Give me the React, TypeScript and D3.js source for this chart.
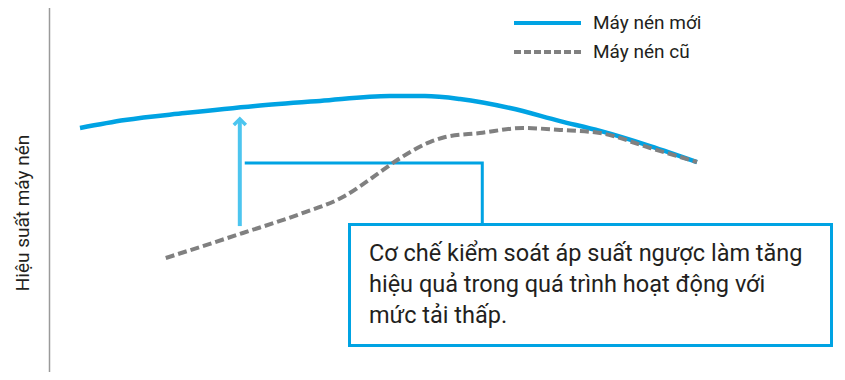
import { useEffect, useRef } from "react";
import * as d3 from "d3";

// load (%) on x, efficiency (relative) on y
const NEW_X = [0, 7.3, 17, 28.4, 38.9, 50.2, 55.9, 61.6, 69.7, 77.8, 84.3, 92.4, 100];
const NEW_Y = [81.9, 85.7, 89, 92.4, 94.8, 97.1, 97.1, 95.7, 91.4, 85.2, 80.5, 73.3, 65.7];
const OLD_X = [13.9, 26.4, 35.7, 42.9, 47.3, 51.9, 56.7, 59.2, 64.8, 71.8, 77.8, 84.3, 92.4, 100];
const OLD_Y = [20, 31.9, 41, 49.5, 58.1, 67.6, 75.2, 77.6, 79.5, 81.9, 81, 79.5, 72.4, 65.7];
const SERIES_NAMES = ["Máy nén mới", "Máy nén cũ"];
const Y_LABEL = "Hiệu suất máy nén";
const NOTE_LINES = [
  "Cơ chế kiểm soát áp suất ngược làm tăng",
  "hiệu quả trong quá trình hoạt động với",
  "mức tải thấp.",
];
// arrow: from old curve up to new curve at this load
const ARROW_X = 25.9;
const ARROW_Y = [35.2, 86.7];
// callout leader: starts near the arrow, goes right then down to the box
const LEADER_X = [26.7, 65.2];
const LEADER_Y = 65.2;

const W = 845;
const H = 380;
const BLUE = "#00a3e3";
const LIGHT_BLUE = "#4cc5ef";
const GRAY = "#808080";
const FONT = "Roboto, 'Noto Sans', sans-serif";

export default function App() {
  const svgRef = useRef<SVGSVGElement>(null);

  useEffect(() => {
    const svg = d3.select(svgRef.current).attr("width", W).attr("height", H);
    svg.selectAll("*").remove();

    const x = d3.scaleLinear().domain([0, 100]).range([80, 697]);
    const y = d3.scaleLinear().domain([0, 100]).range([300, 90]);

    // y axis line (no ticks)
    svg.append("line")
      .attr("x1", 49.5).attr("x2", 49.5)
      .attr("y1", 4).attr("y2", 378)
      .attr("stroke", "#9a9a9a").attr("stroke-width", 1.5);

    svg.append("text")
      .attr("transform", `translate(29,213) rotate(-90)`)
      .attr("text-anchor", "middle")
      .attr("font-family", FONT)
      .attr("font-size", 19)
      .attr("fill", "#231f20")
      .text(Y_LABEL);

    const line = d3.line<[number, number]>()
      .x((d) => x(d[0]))
      .y((d) => y(d[1]))
      .curve(d3.curveMonotoneX);

    const newPts = NEW_X.map((v, i) => [v, NEW_Y[i]] as [number, number]);
    const oldPts = OLD_X.map((v, i) => [v, OLD_Y[i]] as [number, number]);

    // callout leader
    svg.append("path")
      .attr("d", `M${x(LEADER_X[0])},${y(LEADER_Y)} H${x(LEADER_X[1])} V224`)
      .attr("fill", "none")
      .attr("stroke", BLUE)
      .attr("stroke-width", 3);

    svg.append("path")
      .attr("d", line(newPts))
      .attr("fill", "none")
      .attr("stroke", BLUE)
      .attr("stroke-width", 4.5);

    svg.append("path")
      .attr("d", line(oldPts))
      .attr("fill", "none")
      .attr("stroke", GRAY)
      .attr("stroke-width", 4)
      .attr("stroke-dasharray", "9,4");

    // arrow
    const ax = x(ARROW_X);
    const ay0 = y(ARROW_Y[0]);
    const ay1 = y(ARROW_Y[1]);
    svg.append("line")
      .attr("x1", ax).attr("x2", ax)
      .attr("y1", ay0).attr("y2", ay1 + 2)
      .attr("stroke", LIGHT_BLUE).attr("stroke-width", 4);
    svg.append("path")
      .attr("d", `M${ax - 6},${ay1 + 7} L${ax},${ay1 + 1} L${ax + 6},${ay1 + 7}`)
      .attr("fill", "none")
      .attr("stroke", LIGHT_BLUE)
      .attr("stroke-width", 3.5);

    // note box
    svg.append("rect")
      .attr("x", 349.5).attr("y", 224.5)
      .attr("width", 482).attr("height", 121)
      .attr("fill", "white")
      .attr("stroke", BLUE)
      .attr("stroke-width", 3);
    const note = svg.append("text")
      .attr("font-family", FONT)
      .attr("font-size", 23.5)
      .attr("fill", "#231f20");
    NOTE_LINES.forEach((t, i) => {
      note.append("tspan").attr("x", 369).attr("y", 261 + i * 31).text(t);
    });

    // legend
    const legend = svg.append("g");
    SERIES_NAMES.forEach((name, i) => {
      const ly = 23 + i * 29;
      legend.append("line")
        .attr("x1", 514).attr("x2", 581)
        .attr("y1", ly).attr("y2", ly)
        .attr("stroke", i === 0 ? BLUE : GRAY)
        .attr("stroke-width", 4)
        .attr("stroke-dasharray", i === 0 ? null : "7,3");
      legend.append("text")
        .attr("x", 593).attr("y", ly + 5.5)
        .attr("font-family", FONT)
        .attr("font-size", 19)
        .attr("fill", "#231f20")
        .text(name);
    });
  }, []);

  return (
    <div style={{ width: W, height: H, margin: -8, background: "white" }}>
      <svg ref={svgRef} style={{ display: "block" }}></svg>
    </div>
  );
}
